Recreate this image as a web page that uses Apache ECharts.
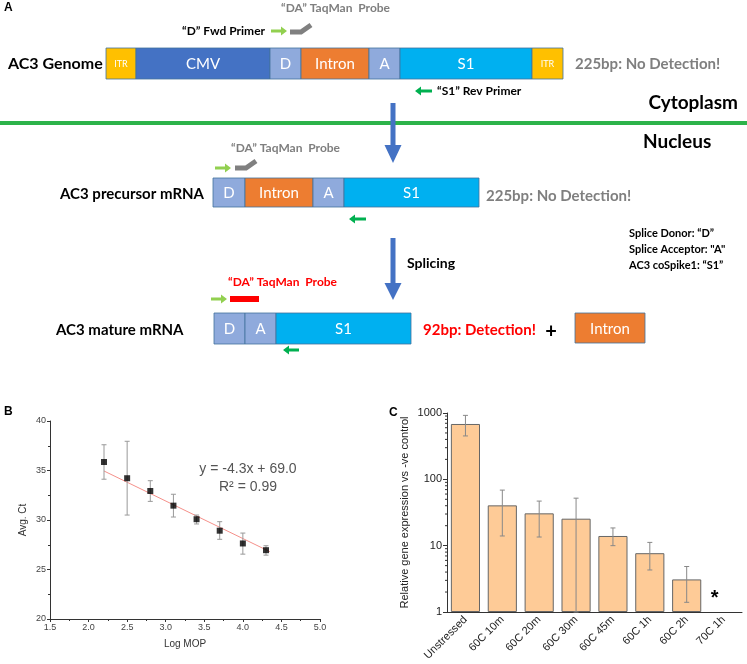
<!DOCTYPE html>
<html>
<head>
<meta charset="utf-8">
<script src="https://cdn.jsdelivr.net/npm/echarts@6/dist/echarts.min.js"></script>
<style>html,body{margin:0;padding:0;background:#fff}#c{width:747px;height:664px}</style>
</head>
<body>
<div id="c"></div>
<script>
// ---------- Panel B data ----------
const logMOP = [2.2, 2.5, 2.8, 3.1, 3.4, 3.7, 4.0, 4.3];
const avgCt = [35.86, 34.22, 32.93, 31.45, 30.08, 28.92, 27.63, 26.95];
const ctLow = [34.12, 30.5, 31.88, 30.3, 29.6, 28.05, 26.55, 26.45];
const ctHigh = [37.6, 37.95, 33.97, 32.6, 30.5, 29.83, 28.68, 27.4];
const trendX = [2.2, 4.35];
const trendY = [34.95, 26.8];
const xTicksB = [1.5, 5.0];
const yTicksB = [20, 40];

// ---------- Panel C data ----------
const conditions = ['Unstressed', '60C 10m', '60C 20m', '60C 30m', '60C 45m', '60C 1h', '60C 2h', '70C 1h'];
const relExpr = [683, 40.5, 30.7, 25.5, 14.0, 7.7, 3.1, null];
const exprLow = [451, 14.0, 13.5, 1, 10.0, 4.3, 1.4, null];
const exprHigh = [921, 68.8, 47, 52, 18.5, 11.2, 4.85, null];
const minorTicksC = [2,3,4,5,6,7,8,9,20,30,40,50,60,70,80,90,200,300,400,500,600,700,800,900];

// ---------- Panel A texts ----------
const genomeParts = ['ITR', 'CMV', 'D', 'Intron', 'A', 'S1', 'ITR'];
const precursorParts = ['D', 'Intron', 'A', 'S1'];
const matureParts = ['D', 'A', 'S1'];
const legendLines = ['Splice Donor: \u201cD\u201d', 'Splice Acceptor: "A"', 'AC3 coSpike1: \u201cS1\u201d'];

const COL = {ITR:'#ffc000', CMV:'#4472c4', D:'#8faadc', A:'#8faadc', Intron:'#ed7d31', S1:'#00b0f0'};
const F = 'Lato, "Open Sans", sans-serif';
const G = [];
function txt(t, x, y, size, color, bold, align) {
  G.push({type:'text', z:10, style:{text:t, x:x, y:y, font:(bold?'bold ':'')+size+'px '+F, fill:color, textAlign:align||'left', textVerticalAlign:'middle'}});
}
function box(x, y, w, h, name, fs) {
  G.push({type:'rect', z:5, shape:{x:x, y:y, width:w, height:h}, style:{fill:COL[name], stroke:'#41719c', lineWidth:0.8}});
  txt(name, x + w/2, y + h/2 + 1, fs || (name==='ITR'?9:15), '#fff', false, 'center');
}
function arrowH(x1, x2, y, color) {
  const d = x2 > x1 ? 1 : -1, hl = 6*d;
  G.push({type:'polygon', z:6, shape:{points:[[x1,y-1.5],[x2-hl,y-1.5],[x2-hl,y-4.5],[x2,y],[x2-hl,y+4.5],[x2-hl,y+1.5],[x1,y+1.5]]}, style:{fill:color}});
}
function arrowV(x, y1, yh, y2) {
  G.push({type:'polygon', z:6, shape:{points:[[x-2.5,y1],[x+2.5,y1],[x+2.5,yh],[x+8.5,yh],[x,y2],[x-8.5,yh],[x-2.5,yh]]}, style:{fill:'#4472c4'}});
}
function probe(pts) {
  G.push({type:'polyline', z:6, shape:{points:pts}, style:{stroke:'#808080', lineWidth:5, fill:null}});
}
function bar(parts, xs, y, h) {
  parts.forEach((p, i) => box(xs[i], y, xs[i+1]-xs[i], h, p));
}

// Panel A
G.push({type:'text', z:10, style:{text:'A', x:4, y:8, font:'bold 12px "Liberation Sans", Arial', fill:'#000', textVerticalAlign:'middle'}});
txt('\u201cDA\u201d TaqMan  Probe', 281, 8, 12, '#7f7f7f', true);
txt('\u201cD\u201d Fwd Primer', 182, 31, 12, '#000', true);
arrowH(271, 287, 31, '#92d050');
probe([[290,32],[301,32],[311,25]]);
txt('AC3 Genome', 8, 64, 16, '#000', true);
bar(genomeParts, [106,136,270,301,369,400,532,563], 48, 31);
txt('225bp: No Detection!', 575, 64, 15, '#7f7f7f', true);
arrowH(432, 415, 91, '#00b050');
txt('\u201cS1\u201d Rev Primer', 437, 91, 12, '#000', true);
txt('Cytoplasm', 738, 103, 19, '#000', true, 'right');
G.push({type:'rect', z:4, shape:{x:0, y:121, width:747, height:4}, style:{fill:'#2db34a'}});
arrowV(393, 103, 145, 163);
txt('Nucleus', 643, 142, 19, '#000', true);

txt('\u201cDA\u201d TaqMan  Probe', 231, 148, 12, '#7f7f7f', true);
arrowH(215, 231, 168, '#92d050');
probe([[235,168],[246,168],[256,161]]);
txt('AC3 precursor mRNA', 60, 194, 15, '#000', true);
bar(precursorParts, [213,245,313,344,479], 178, 29);
txt('225bp: No Detection!', 486, 196, 15, '#7f7f7f', true);
arrowH(366, 349, 219, '#00b050');

legendLines.forEach((l, i) => txt(l, 629, 233 + i*16, 11, '#000', true));
arrowV(393, 238, 283, 300);
txt('Splicing', 407, 263, 14, '#000', true);

txt('\u201cDA\u201d TaqMan  Probe', 228, 282, 12, '#ff0000', true);
arrowH(211, 227, 299, '#92d050');
G.push({type:'rect', z:6, shape:{x:230, y:296, width:29, height:6}, style:{fill:'#ff0000'}});
txt('AC3 mature mRNA', 56, 330, 15, '#000', true);
bar(matureParts, [214,245,276,411], 313, 31);
arrowH(299, 283, 350, '#00b050');
txt('92bp: Detection!', 423, 330, 15, '#ff0000', true);
txt('+', 551, 332, 20, '#000', true, 'center');
box(575, 313, 70, 30, 'Intron');

// Panel B / C labels & annotations
G.push({type:'text', z:10, style:{text:'B', x:4, y:412, font:'bold 12px "Liberation Sans", Arial', fill:'#000', textVerticalAlign:'middle'}});
G.push({type:'text', z:10, style:{text:'C', x:389, y:413, font:'bold 12px "Liberation Sans", Arial', fill:'#000', textVerticalAlign:'middle'}});
G.push({type:'text', z:10, style:{text:'y = -4.3x + 69.0', x:248, y:469, font:'14px "Liberation Sans", Arial', fill:'#555', textAlign:'center', textVerticalAlign:'middle'}});
G.push({type:'text', z:10, style:{text:'R\u00b2 = 0.99', x:248, y:487, font:'14px "Liberation Sans", Arial', fill:'#555', textAlign:'center', textVerticalAlign:'middle'}});

const AF = '"Liberation Sans", Arial, sans-serif';

const option = {
  animation: false,
  backgroundColor: '#fff',
  graphic: G,
  grid: [
    {left: 50, top: 421, width: 270, height: 198},
    {left: 447, top: 413, width: 295, height: 199}
  ],
  xAxis: [
    {gridIndex:0, type:'value', min:xTicksB[0], max:xTicksB[1], interval:0.5,
     name:'Log MOP', nameLocation:'middle', nameGap:20, nameTextStyle:{fontSize:10, color:'#333', fontFamily:AF},
     axisLine:{lineStyle:{color:'#333'}}, axisTick:{length:3, lineStyle:{color:'#333'}},
     minorTick:{show:true, splitNumber:2, length:2, lineStyle:{color:'#333'}},
     splitLine:{show:false}, axisLabel:{fontSize:9, color:'#444', margin:4, fontFamily:AF, formatter:v=>v.toFixed(1)}},
    {gridIndex:1, type:'category', data:conditions,
     axisLine:{lineStyle:{color:'#333'}}, axisTick:{alignWithLabel:true, length:3, lineStyle:{color:'#333'}},
     axisLabel:{rotate:45, fontSize:11, color:'#222', margin:6, fontFamily:AF, interval:0}}
  ],
  yAxis: [
    {gridIndex:0, type:'value', min:yTicksB[0], max:yTicksB[1], interval:5,
     name:'Avg. Ct', nameLocation:'middle', nameGap:22, nameTextStyle:{fontSize:10, color:'#333', fontFamily:AF},
     axisLine:{show:true, lineStyle:{color:'#333'}}, axisTick:{show:true, length:3, lineStyle:{color:'#333'}},
     minorTick:{show:true, splitNumber:2, length:2, lineStyle:{color:'#333'}},
     splitLine:{show:false}, axisLabel:{fontSize:9, color:'#444', margin:4, fontFamily:AF}},
    {gridIndex:1, type:'log', logBase:10, min:1, max:1000,
     name:'Relative gene expression vs -ve control', nameLocation:'middle', nameGap:37,
     nameTextStyle:{fontSize:11, color:'#222', fontFamily:AF},
     axisLine:{show:true, lineStyle:{color:'#333'}}, axisTick:{show:true, length:4, lineStyle:{color:'#333'}},
     splitLine:{show:false}, axisLabel:{fontSize:11, color:'#222', margin:5, fontFamily:AF, formatter:v=>String(Math.round(v))}}
  ],
  series: [
    {type:'line', xAxisIndex:0, yAxisIndex:0, data:trendX.map((x,i)=>[x, trendY[i]]),
     symbol:'none', lineStyle:{color:'#f5908a', width:1}, z:2},
    {type:'custom', xAxisIndex:0, yAxisIndex:0, z:3,
     data: logMOP.map((x,i)=>[x, ctLow[i], ctHigh[i]]),
     renderItem: function(params, api) {
       const lo = api.coord([api.value(0), api.value(1)]);
       const hi = api.coord([api.value(0), api.value(2)]);
       const st = {stroke:'#999', lineWidth:1};
       return {type:'group', children:[
         {type:'line', shape:{x1:lo[0], y1:lo[1], x2:hi[0], y2:hi[1]}, style:st},
         {type:'line', shape:{x1:lo[0]-2.5, y1:lo[1], x2:lo[0]+2.5, y2:lo[1]}, style:st},
         {type:'line', shape:{x1:hi[0]-2.5, y1:hi[1], x2:hi[0]+2.5, y2:hi[1]}, style:st}
       ]};
     }},
    {type:'scatter', xAxisIndex:0, yAxisIndex:0, z:4, data:logMOP.map((x,i)=>[x, avgCt[i]]),
     symbol:'rect', symbolSize:6, itemStyle:{color:'#000'}},
    {type:'bar', xAxisIndex:1, yAxisIndex:1, data:relExpr, barCategoryGap:'21%',
     itemStyle:{color:'#fecb97', borderColor:'#666', borderWidth:1}},
    {type:'custom', xAxisIndex:1, yAxisIndex:1, z:5,
     data: conditions.map((c,i)=>[i, exprLow[i], exprHigh[i]]).filter(d=>d[1]!=null),
     renderItem: function(params, api) {
       const lo = api.coord([api.value(0), api.value(1)]);
       const hi = api.coord([api.value(0), api.value(2)]);
       const st = {stroke:'#888', lineWidth:1};
       return {type:'group', children:[
         {type:'line', shape:{x1:lo[0], y1:lo[1], x2:hi[0], y2:hi[1]}, style:st},
         {type:'line', shape:{x1:lo[0]-2.5, y1:lo[1], x2:lo[0]+2.5, y2:lo[1]}, style:st},
         {type:'line', shape:{x1:hi[0]-2.5, y1:hi[1], x2:hi[0]+2.5, y2:hi[1]}, style:st}
       ]};
     }},
    {type:'custom', xAxisIndex:1, yAxisIndex:1, z:5, silent:true,
     data: minorTicksC.map(v=>[0, v]),
     renderItem: function(params, api) {
       const p = api.coord([0, api.value(1)]);
       const half = api.size([1, 0])[0] / 2;
       const x = p[0] - half;
       return {type:'line', shape:{x1:x-2, y1:p[1], x2:x, y2:p[1]}, style:{stroke:'#333', lineWidth:1}};
     }},
    {type:'custom', xAxisIndex:1, yAxisIndex:1, z:5, silent:true,
     data: conditions.map((c,i)=>[i, relExpr[i]]).filter(d=>d[1]==null).map(d=>[d[0], 1.6]),
     renderItem: function(params, api) {
       const p = api.coord([api.value(0), api.value(1)]);
       return {type:'text', style:{text:'*', x:p[0]-9, y:p[1], font:'bold 20px "Liberation Sans", Arial', fill:'#000', textAlign:'center', textVerticalAlign:'middle'}};
     }}
  ]
};
const chart = echarts.init(document.getElementById('c'), null, {renderer:'canvas'});
chart.setOption(option);
</script>
</body>
</html>
